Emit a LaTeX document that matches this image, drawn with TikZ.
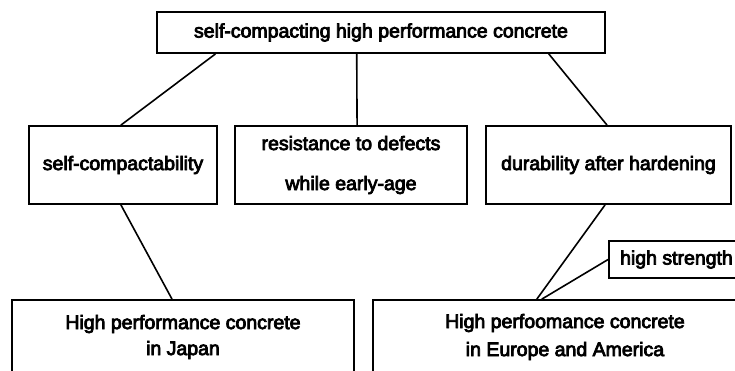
\documentclass[tikz,border=0pt]{standalone}
\usepackage{fontspec}
\newfontfamily\scanfont{Liberation Sans}[FakeBold=4]
\usepackage{tikz}
\usetikzlibrary{calc}

\begin{document}
\begin{tikzpicture}[
    x=1pt, y=-1pt,
    box/.style={draw, line width=1.8pt, inner sep=0pt, align=center,
                font=\scanfont\fontsize{19.5}{26}\selectfont},
    link/.style={line width=1.6pt}
]
    \useasboundingbox (0,0) rectangle (735,370);
    \clip (0,0) rectangle (735,370);

    % top of the tree
    \node[box, minimum width=448, minimum height=41] (shpc) at (381,32.5) {self-compacting high performance concrete};

    % the three properties
    \node[box, minimum width=188, minimum height=78] (selfc) at (123,165) {self-compactability};
    \node[box, minimum width=232, minimum height=78, font=\scanfont\fontsize{19.5}{40}\selectfont] (resist) at (351,165) {resistance to defects\\while early-age};
    \node[box, minimum width=245, minimum height=78] (durab) at (608.5,165) {durability after hardening};

    % the two concretes
    \node[box, minimum width=342, minimum height=74] (japan) at (183,337) {High performance concrete\\in Japan};
    \node[box, minimum width=384, minimum height=74, font=\scanfont\fontsize{19.5}{28}\selectfont] (europe) at (565,337) {High perfoomance concrete\\in Europe and America};
    \node[box, minimum width=135, minimum height=37] (hstr) at (676.5,259.5) {high strength};

    \draw[link] ($(shpc.south west)!.132!(shpc.south east)$) -- ($(selfc.north west)!.489!(selfc.north east)$);
    \draw[link] ($(shpc.south west)!.446!(shpc.south east)$) -- ($(resist.north west)!.526!(resist.north east)$);
    \draw[link] ($(shpc.south west)!.873!(shpc.south east)$) -- ($(durab.north west)!.494!(durab.north east)$);
    \draw[link] ($(selfc.south west)!.489!(selfc.south east)$) -- ($(japan.north west)!.468!(japan.north east)$);
    \draw[link] ($(durab.south west)!.486!(durab.south east)$) -- ($(europe.north west)!.427!(europe.north east)$);
    \draw[link] (hstr.west) -- ($(europe.north west)!.44!(europe.north east)$);
\end{tikzpicture}
\end{document}
